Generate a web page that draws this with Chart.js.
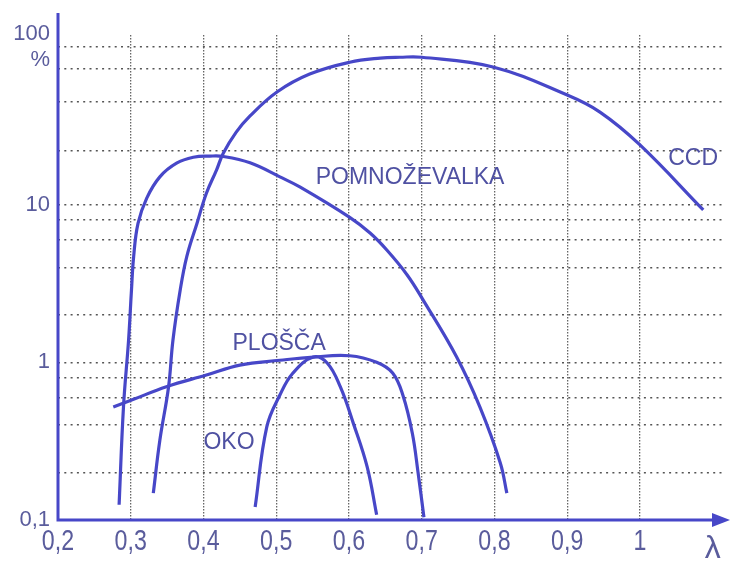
<!DOCTYPE html>
<html>
<head>
<meta charset="utf-8">
<script src="https://cdn.jsdelivr.net/npm/chart.js@4.4.0/dist/chart.umd.min.js"></script>
<style>
  html, body { margin: 0; padding: 0; background: #fff; }
</style>
</head>
<body>
<canvas id="chart" width="731" height="561"></canvas>
<script>
// wavelength (um) and quantum efficiency (%)
const ccdX = [0.331, 0.340, 0.352, 0.358, 0.368, 0.377, 0.391, 0.404, 0.418, 0.427, 0.445, 0.464, 0.501, 0.546, 0.601, 0.643, 0.670, 0.700, 0.798, 0.900, 0.945, 1.000, 1.087];
const ccdY = [0.148, 0.32, 0.70, 1.38, 2.87, 4.68, 7.6, 11.8, 16.6, 21.1, 28.8, 36.5, 51.8, 67.3, 80, 85, 86, 86, 74.6, 49.5, 38.6, 23.9, 9.25];

const pmtX = [0.284, 0.290, 0.297, 0.301, 0.304, 0.310, 0.322, 0.340, 0.363, 0.386, 0.409, 0.427, 0.464, 0.505, 0.533, 0.601, 0.629, 0.652, 0.680, 0.702, 0.748, 0.780, 0.808, 0.817];
const pmtY = [0.125, 0.52, 1.38, 2.87, 4.68, 7.6, 11.0, 15.0, 18.3, 19.95, 20.3, 20.2, 18.4, 15.0, 12.9, 8.3, 6.6, 5.15, 3.58, 2.48, 1.08, 0.52, 0.23, 0.148];

const plateX = [0.276, 0.303, 0.349, 0.404, 0.450, 0.505, 0.551, 0.601, 0.638, 0.660, 0.674, 0.687, 0.695, 0.703];
const plateY = [0.52, 0.58, 0.70, 0.83, 0.96, 1.03, 1.08, 1.10, 1.0, 0.855, 0.62, 0.356, 0.199, 0.104];

const eyeX = [0.471, 0.487, 0.505, 0.523, 0.551, 0.570, 0.588, 0.606, 0.625, 0.638];
const eyeY = [0.121, 0.39, 0.62, 0.855, 1.08, 0.99, 0.70, 0.41, 0.217, 0.108];

const xTicks = [0.2, 0.3, 0.4, 0.5, 0.6, 0.7, 0.8, 0.9, 1.0, 1.1];
const xLabels = ['0,2', '0,3', '0,4', '0,5', '0,6', '0,7', '0,8', '0,9', '1', 'λ'];
const yGrid = [0.1, 0.2, 0.4, 0.6, 0.8, 1, 2, 4, 6, 8, 10, 22, 45, 73, 100];
const yLabelVals = [0.1, 1, 10, 100];
const yLabels = ['0,1', '1', '10', ['100', '%']];

const curveNames = ['CCD', 'POMNOŽEVALKA', 'PLOŠČA', 'OKO'];
const nameX = [1.073, 0.684, 0.504, 0.435];
const nameY = [19.5, 14.8, 1.32, 0.31];

const blue = '#4747c8';
const textBlue = '#4f51a2';
const tickColor = '#5a5c9c';
const fam = '"Liberation Sans", Arial, sans-serif';

const pts = (xs, ys) => xs.map((x, i) => ({ x: x, y: ys[i] }));

const axesPlugin = {
  id: 'axes',
  afterDraw(chart) {
    const { ctx, chartArea: a, scales } = chart;
    ctx.save();
    ctx.strokeStyle = blue;
    ctx.lineWidth = 3;
    ctx.beginPath();
    ctx.moveTo(a.left, a.top - 22);
    ctx.lineTo(a.left, a.bottom);
    ctx.lineTo(a.right - 6, a.bottom);
    ctx.stroke();
    ctx.fillStyle = blue;
    ctx.beginPath();
    ctx.moveTo(a.right + 6, a.bottom);
    ctx.lineTo(a.right - 12, a.bottom - 7);
    ctx.lineTo(a.right - 12, a.bottom + 7);
    ctx.closePath();
    ctx.fill();

    // x tick labels: tall, narrow digits like the scan
    ctx.fillStyle = tickColor;
    ctx.textAlign = 'center';
    ctx.textBaseline = 'middle';
    xTicks.forEach((v, i) => {
      const px = scales.x.getPixelForValue(v);
      ctx.save();
      if (xLabels[i] === 'λ') {
        ctx.font = '32px ' + fam;
        ctx.fillText(xLabels[i], px, a.bottom + 29);
      } else {
        ctx.translate(px, a.bottom + 22);
        ctx.scale(0.8, 1);
        ctx.font = '29px ' + fam;
        ctx.fillText(xLabels[i], 0, 0);
      }
      ctx.restore();
    });

    ctx.font = '23px ' + fam;
    ctx.fillStyle = textBlue;
    curveNames.forEach((n, i) => {
      ctx.fillText(n, scales.x.getPixelForValue(nameX[i]), scales.y.getPixelForValue(nameY[i]));
    });
    ctx.restore();
  }
};

const line = (data) => ({
  data: data,
  borderColor: blue,
  borderWidth: 3.2,
  pointRadius: 0,
  showLine: true,
  fill: false,
  tension: 0.4
});

new Chart(document.getElementById('chart'), {
  type: 'scatter',
  data: {
    datasets: [
      line(pts(ccdX, ccdY)),
      line(pts(pmtX, pmtY)),
      line(pts(plateX, plateY)),
      line(pts(eyeX, eyeY))
    ]
  },
  options: {
    responsive: false,
    animation: false,
    layout: { padding: { top: 35, right: 7, left: 0, bottom: 0 } },
    plugins: { legend: { display: false }, tooltip: { enabled: false } },
    scales: {
      x: {
        type: 'linear',
        min: 0.2,
        max: 1.1155,
        afterBuildTicks: s => { s.ticks = xTicks.map(v => ({ value: v })); },
        afterFit: s => { s.height = 41; },
        grid: {
          color: c => (c.tick && c.tick.value > 1.05) ? 'rgba(0,0,0,0)' : '#666',
          lineWidth: 1.3,
          drawTicks: false
        },
        border: { display: false, dash: [1.5, 1.5] },
        ticks: { display: false }
      },
      y: {
        type: 'logarithmic',
        min: 0.1,
        max: 119,
        afterBuildTicks: s => { s.ticks = yGrid.map(v => ({ value: v })); },
        afterFit: s => { s.width = 58; },
        grid: { color: '#555', lineWidth: 1.4, drawTicks: false },
        border: { display: false, dash: [2, 4.3] },
        ticks: {
          autoSkip: false,
          padding: 8,
          color: tickColor,
          font: { size: 22, family: fam, lineHeight: 1.15 },
          callback: v => {
            const k = yLabelVals.findIndex(t => Math.abs(t - v) < 1e-9);
            return k >= 0 ? yLabels[k] : '';
          }
        }
      }
    }
  },
  plugins: [axesPlugin]
});
</script>
</body>
</html>
